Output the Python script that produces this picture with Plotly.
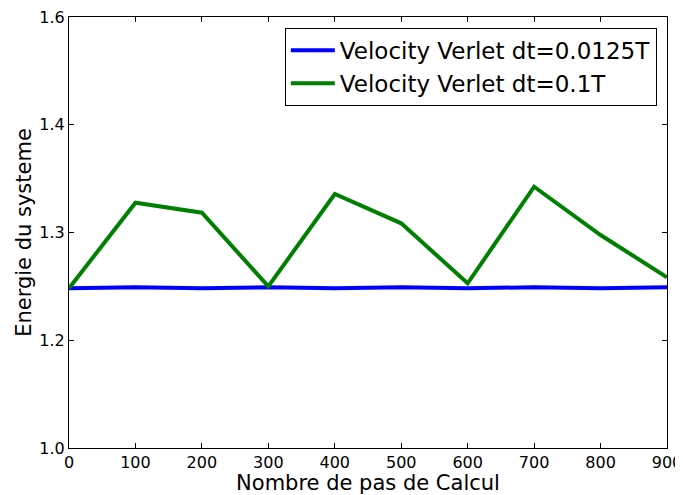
import plotly.graph_objects as go

BLUE = "#0000ff"
GREEN = "#008000"
FONT = "DejaVu Sans"

# nombre de pas de calcul
steps = [0, 100, 200, 300, 400, 500, 600, 700, 800, 900]

# energie du systeme (axe lineaire 1.0 -> 1.6)
energy_fine = [1.2223, 1.2237, 1.2225, 1.2237, 1.2225, 1.2237, 1.2225, 1.2237, 1.2225, 1.2237]
energy_coarse = [1.2223, 1.3415, 1.3276, 1.2250, 1.3536, 1.3128, 1.2293, 1.3637, 1.2965, 1.2376]

names = ["Velocity Verlet dt=0.0125T", "Velocity Verlet dt=0.1T"]

ytick_vals = [1.0, 1.15, 1.3, 1.45, 1.6]
ytick_text = ["1.0", "1.2", "1.3", "1.4", "1.6"]

fig = go.Figure()

fig.add_trace(go.Scatter(x=steps, y=energy_fine, mode="lines", name=names[0],
                         line=dict(color=BLUE, width=4)))
fig.add_trace(go.Scatter(x=steps, y=energy_coarse, mode="lines", name=names[1],
                         line=dict(color=GREEN, width=4)))

axis_common = dict(
    showgrid=False, zeroline=False, showline=True, linecolor="black", linewidth=1,
    mirror="allticks", ticks="inside", ticklen=5, tickcolor="black",
    tickfont=dict(family=FONT, size=16, color="black"), automargin=False,
    ticklabeloverflow="allow",
)

# the page body has an 8px margin: shift the figure up/left by 8px,
# and let it run a little past the right edge so "900" is not clipped
fig.update_layout(
    width=683, height=487,
    margin=dict(l=61, r=24, t=9, b=47),
    plot_bgcolor="white", paper_bgcolor="white",
    font=dict(family=FONT, color="black"),
    xaxis=dict(range=[0, 900], tickvals=steps,
               title=dict(text="Nombre de pas de Calcul", font=dict(size=21), standoff=0),
               **axis_common),
    yaxis=dict(range=[1.0, 1.6], tickvals=ytick_vals, ticktext=ytick_text,
               title=dict(text="Energie du systeme", font=dict(size=21), standoff=1),
               **axis_common),
    legend=dict(x=0.983, y=0.975, xanchor="right", yanchor="top",
                bgcolor="white", bordercolor="black", borderwidth=1,
                font=dict(family=FONT, size=23), itemwidth=44,
                tracegroupgap=0),
    showlegend=True,
)

fig.write_html("out.html")
